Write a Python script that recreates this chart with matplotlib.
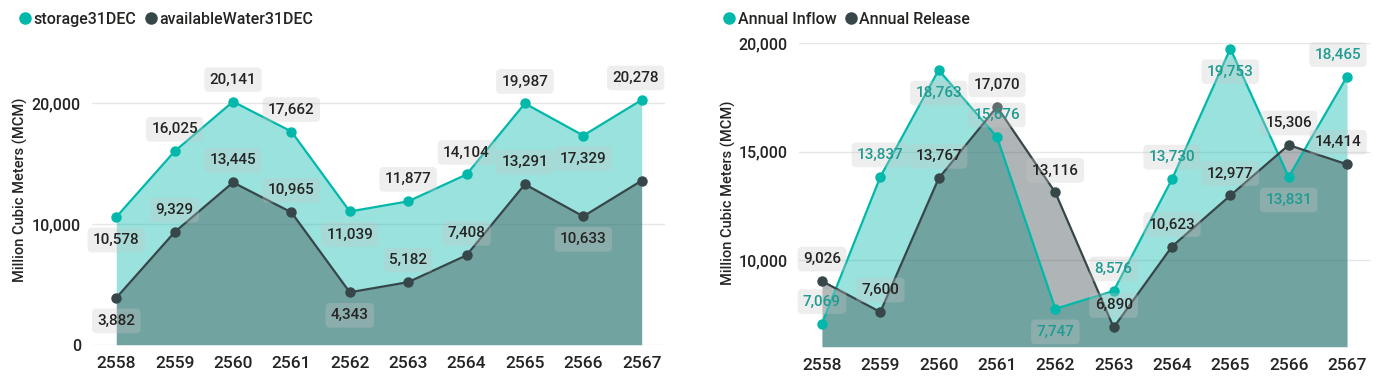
import matplotlib.pyplot as plt
import numpy as np

plt.rcParams['font.family'] = ['Roboto', 'DejaVu Sans']
plt.rcParams['font.weight'] = 500

years = ['2558', '2559', '2560', '2561', '2562', '2563', '2564', '2565', '2566', '2567']

# left chart
storage = [10578, 16025, 20141, 17662, 11039, 11877, 14104, 19987, 17329, 20278]
available = [3882, 9329, 13445, 10965, 4343, 5182, 7408, 13291, 10633, 13590]
available_shown = [True] * 9 + [False]  # last point has no label in the source

# right chart
inflow = [7069, 13837, 18763, 15676, 7747, 8576, 13730, 19753, 13831, 18465]
release = [9026, 7600, 13767, 17070, 13116, 6890, 10623, 12977, 15306, 14414]

# label placement (above / below the point)
storage_pos = ['b', 'a', 'a', 'a', 'b', 'a', 'a', 'a', 'b', 'a']
available_pos = ['b', 'a', 'a', 'a', 'b', 'a', 'a', 'a', 'b', 'a']
inflow_pos = ['a', 'a', 'b', 'a', 'b', 'a', 'a', 'b', 'b', 'a']
release_pos = ['a', 'a', 'a', 'a', 'a', 'a', 'a', 'a', 'a', 'a']

TEAL = '#01B8AA'
DARK = '#374649'
TXT = '#252423'
W, H = 1379, 377


def px_axes(fig, left, right, top, bottom):
    return fig.add_axes([left / W, 1 - bottom / H, (right - left) / W, (bottom - top) / H])


def label(ax, x, y, s, pos, color, dx=0):
    dy = 22 if pos == 'a' else -23
    ax.annotate(s, (x, y), xytext=(dx, dy), textcoords='offset pixels',
                ha='center', va='center', fontsize=11, color=color,
                bbox=dict(boxstyle='round,pad=0.35,rounding_size=0.3',
                          fc='#c8c8c8', ec='none', alpha=0.3),
                annotation_clip=False, zorder=6)


def draw(ax, s1, s2, ymin):
    x = np.arange(len(years))
    ax.fill_between(x, s1, ymin, color=TEAL, alpha=0.4, lw=0, zorder=2)
    ax.fill_between(x, s2, ymin, color=DARK, alpha=0.4, lw=0, zorder=2)
    ax.plot(x, s1, color=TEAL, lw=1.6, marker='o', ms=6.5, zorder=4)
    ax.plot(x, s2, color=DARK, lw=1.6, marker='o', ms=6.5, zorder=4)
    ax.set_xticks(x)
    ax.set_xticklabels(years)
    for sp in ax.spines.values():
        sp.set_visible(False)
    ax.tick_params(length=0, pad=8, labelsize=12.5, colors=TXT)
    ax.tick_params(axis='y', labelsize=11.5)
    ax.yaxis.set_major_formatter(plt.FuncFormatter(lambda v, p: f'{int(v):,}'))
    ax.grid(axis='y', color='#e6e6e6', lw=1, zorder=0)
    ax.set_axisbelow(True)


fig = plt.figure(figsize=(W / 100, H / 100), dpi=100)

# ---- left
ax1 = px_axes(fig, 92, 665, 60, 344.7)
draw(ax1, storage, available, 0)
ax1.set_xlim(-0.416, 9.4)
ax1.set_ylim(0, (344.7 - 60) / 12.07 * 1000)
ax1.set_yticks([0, 10000, 20000])
for i in range(len(years)):
    dx = -6 if i == 9 else 0
    label(ax1, i, storage[i], f'{storage[i]:,}', storage_pos[i], TXT, dx)
    if available_shown[i]:
        label(ax1, i, available[i], f'{available[i]:,}', available_pos[i], TXT, dx)
fig.text(20 / W, 1 - 190 / H, 'Million Cubic Meters (MCM)', rotation=90,
         ha='center', va='center', fontsize=10.5, color=TXT)

# ---- right
ax2 = px_axes(fig, 799, 1370, 43.3, 346.7)
draw(ax2, inflow, release, 6000)
ax2.set_xlim(-0.394, 9.394)
ax2.set_ylim(6000, 20000)
ax2.set_yticks([10000, 15000, 20000])
for i in range(len(years)):
    dx = -9 if i == 9 else 0
    label(ax2, i, inflow[i], f'{inflow[i]:,}', inflow_pos[i], '#1f9b91', dx)
    label(ax2, i, release[i], f'{release[i]:,}', release_pos[i], TXT, dx)
fig.text(728 / W, 1 - 193 / H, 'Million Cubic Meters (MCM)', rotation=90,
         ha='center', va='center', fontsize=10.5, color=TXT)

# legends
for lx, names in [(12, ['storage31DEC', 'availableWater31DEC']),
                  (716, ['Annual Inflow', 'Annual Release'])]:
    hs = [plt.Line2D([], [], ls='none', marker='o', ms=8, color=c) for c in (TEAL, DARK)]
    fig.legend(hs, names, loc='upper left', bbox_to_anchor=(lx / W, 1 - 4 / H),
               ncol=2, frameon=False, fontsize=11.5, handlelength=0.6,
               handletextpad=0.25, columnspacing=0.6, borderpad=0, labelcolor=TXT)

fig.savefig('out.png', dpi=100)
